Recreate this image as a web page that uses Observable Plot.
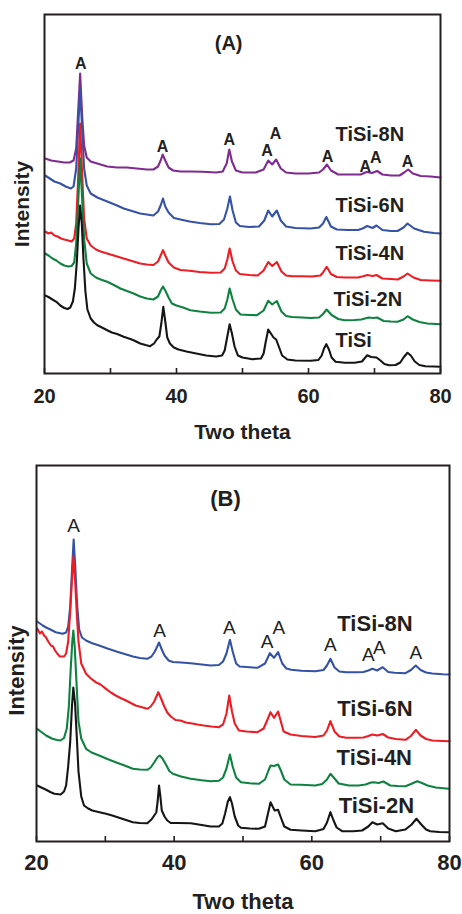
<!DOCTYPE html>
<html><head><meta charset="utf-8">
<script src="https://cdn.jsdelivr.net/npm/d3@7"></script>
<script src="https://cdn.jsdelivr.net/npm/@observablehq/plot@0.6"></script>
<style>html,body{margin:0;padding:0;background:#fff} svg{display:block}</style>
</head><body><div id="chart"></div>
<script>
// ---------- Panel (A) data: [two theta, intensity (a.u.)] ----------
const A_TiSi8N = [[20.1,215],[21,213],[22,212],[23,211],[23.8,211],[24.4,213],[24.8,225],[25.1,262],[25.4,300],[25.7,258],[26,228],[26.4,216],[27,212],[28,210],[29.5,207],[31,206],[32.5,206],[34,205],[35.5,204],[36.5,204],[37.2,207],[37.6,213],[37.9,219],[38.3,213],[38.8,206],[39.5,203],[40.6,202],[42,202],[44,201.7],[46,201],[47,202],[47.6,210],[48,224],[48.4,212],[49,203],[50,201],[52,201],[53.2,204],[53.9,213],[54.5,209],[55.1,214],[55.8,205],[56.6,201],[58,200],[60,200],[61.6,201],[62.2,204],[62.8,209],[63.4,203],[64.5,199],[66,199],[67.9,199],[68.8,201.5],[69.6,200.5],[70.4,202.5],[71.2,199],[72.5,198],[73.8,198],[74.5,201],[75.1,204],[75.8,200],[77,197.5],[78.5,197],[80,196]];
const A_TiSi6N = [[20.1,198],[20.8,195],[21.5,192],[22.4,190],[23.2,187],[24,185],[24.4,187],[24.8,205],[25.1,245],[25.4,285],[25.7,245],[26,205],[26.4,188],[27,180],[28,176],[29.5,172],[31,168],[32,165],[33.5,162],[34.5,160],[35.5,159],[36.5,158],[37.2,162],[37.6,168],[37.95,175],[38.3,167],[38.8,161],[39.6,155.5],[40.6,154],[42,152],[43.5,150.5],[45.2,149.3],[46.5,149.5],[47.2,154],[47.7,165],[48.1,177],[48.5,163],[49,151],[49.6,147.5],[51,146.5],[52.5,147],[53.3,153],[53.9,163],[54.5,157],[55.2,163],[55.8,153],[56.6,147],[58,145.5],[60.3,145],[61.6,146],[62.2,150],[62.7,156.5],[63.4,147],[64.3,144],[66,143.5],[67.5,143.5],[68.2,145],[68.9,147.5],[69.7,145.5],[70.3,148],[71.2,143.5],[72.5,142.5],[73.5,142.5],[74.4,146],[75,150],[76,145],[77.5,141.7],[79,140.5],[80,140]];
const A_TiSi4N = [[20.1,142],[20.6,140],[21,141],[21.5,138],[22,137],[22.5,135],[23,134],[23.6,133],[24.1,132],[24.5,135],[24.8,150],[25.1,195],[25.4,250],[25.7,200],[26,155],[26.4,135],[27,128],[27.8,124],[28.5,122],[29.5,120],[30.5,118],[32,115],[33,113],[34.5,110],[35.5,109],[36.5,108.5],[37.2,112],[37.6,118],[37.95,123.3],[38.3,118],[38.8,111],[39.6,106],[40.6,103.5],[42,102.7],[43.5,101.5],[45.2,100.7],[46.7,101],[47.3,105],[47.7,114],[48.05,125],[48.5,112],[49,103],[49.6,99.5],[51,98.5],[52.3,98],[53.2,103],[53.9,111.5],[54.5,107.5],[55.2,111.5],[55.9,102],[56.6,98],[57.5,97.3],[59,97.3],[60.5,97],[61.8,98],[62.2,101],[62.75,106.7],[63.4,99.5],[64.3,96.5],[65.5,96],[67.5,96],[68.3,97.2],[68.9,98.5],[69.7,97.5],[70.3,98.5],[71.2,95],[72.5,94.5],[73.5,94],[74.4,97],[75,100],[75.9,96],[77,93.5],[78.5,93],[80,92.7]];
const A_TiSi2N = [[20.1,120],[20.6,118],[21.2,115],[21.8,113],[22.4,110],[23,108],[23.6,107],[24.1,107.5],[24.5,111],[24.8,130],[25.1,170],[25.4,215],[25.7,175],[26,135],[26.4,110],[27,100],[27.8,96],[28.5,94],[29.5,91.7],[30.5,88.5],[31.5,85],[32.5,82.5],[33.5,80],[34.5,77],[35.5,75],[36.5,74],[37.2,77],[37.6,83],[37.95,87],[38.3,83],[38.8,76],[39.3,70],[40,68],[41,66],[42.1,63.3],[43.5,62],[45.2,60.7],[46.7,61],[47.3,65],[47.7,74],[48.05,85],[48.5,74],[49,64],[49.7,59],[51,58.5],[52.2,58.3],[53.2,63],[53.9,72.7],[54.5,69],[55.2,72.5],[55.9,62],[56.6,57.5],[57.5,56.5],[59,56],[60.3,55.5],[61.6,56],[62.2,59.5],[62.75,64],[63.5,58.5],[64.5,54.5],[65.5,53.3],[67,53.5],[68,54],[69.1,56],[69.8,55.5],[70.4,56],[71.4,52.5],[72.5,52],[73.5,51.7],[74.4,54],[75,57.3],[75.8,54],[76.8,51.5],[78,50],[80,49.3]];
const A_TiSi = [[20.1,78],[20.6,76.5],[21.2,74],[21.8,71.7],[22.4,68],[23,65.5],[23.5,64.5],[23.9,66],[24.3,72],[24.6,85],[24.9,112],[25.15,145],[25.4,168],[25.65,150],[25.9,115],[26.2,82],[26.5,64],[27,55],[27.5,51],[28,48.3],[28.7,46],[29.5,43.3],[30.2,41],[31,39.5],[32,36.7],[33,34.5],[33.5,33.3],[34.5,30],[35.3,28.5],[36,27.3],[36.6,30],[37,34],[37.4,37],[37.7,50],[38,66.7],[38.3,52],[38.6,36],[39,30],[39.6,26],[40.3,24],[41.5,22],[43,20],[44.5,18],[46,17],[46.9,18],[47.3,23],[47.7,37],[48.05,49.3],[48.4,40],[48.8,27],[49.3,18],[50,16],[51.5,14.3],[52.8,15],[53.2,20],[53.5,31],[53.9,44],[54.3,40],[54.7,36],[55.1,34],[55.5,27],[56,18],[56.8,14],[58,13],[60.3,12.7],[61.5,13.5],[62,18],[62.35,25],[62.7,29.3],[63.1,24],[63.5,16],[64.1,11.7],[65.5,10.8],[67,10.7],[68.1,12],[68.6,16],[68.9,18.3],[69.5,16.5],[70.3,16],[70.9,13],[71.5,9.5],[72.2,8.3],[73.2,8.5],[73.9,11],[74.4,16],[75,20.7],[75.5,18],[76.1,12],[76.8,8.5],[77.7,7.3],[79,7],[80,6.7]];

// ---------- Panel (B) data ----------
const B_TiSi8N = [[20.1,220],[20.5,218],[20.9,216],[21.4,214],[21.8,212.7],[22.3,211],[22.8,209.3],[23.3,208.5],[23.8,207.7],[24.3,209],[24.6,215],[24.9,235],[25.15,270],[25.4,302],[25.65,272],[25.9,237],[26.2,212],[26.6,204],[27.2,201],[28,198.5],[29.1,196],[30.3,193],[31.5,190.3],[32.8,187.5],[34,185],[35,183.5],[36.1,182.7],[36.7,185],[37.2,190],[37.8,199],[38.2,192],[38.6,186],[39.2,181],[39.8,179.5],[41,179],[42.4,178.3],[44,177],[45.3,176],[46.5,176.5],[47.1,180],[47.6,188],[48.1,201.7],[48.5,190],[49,178],[49.5,175],[50.5,174.5],[52.1,173.7],[53.2,178],[53.9,188.3],[54.5,183.7],[55.1,189.3],[55.7,178],[56.3,173],[57,171.7],[58.5,170.8],[60.5,170.3],[61.7,171.5],[62.2,176],[62.7,182.7],[63.3,174],[64,170],[65,169.3],[66.5,169.3],[67.5,169.5],[68.2,171],[68.8,172.7],[69.5,171],[70.3,174.3],[71.1,169.5],[72,168.8],[73.6,168.3],[74.4,171.5],[75.1,176],[75.8,171.5],[76.6,169],[77.5,168],[79,167.3],[80,167]];
const B_TiSi6N = [[20.1,213],[20.5,208],[20.8,210],[21.1,206],[21.4,204],[21.7,200],[22.1,196],[22.4,195],[22.7,191],[23,188],[23.4,185],[24,185],[24.3,188],[24.6,200],[24.9,230],[25.15,262],[25.35,285],[25.6,262],[25.85,228],[26.1,200],[26.5,178],[27.2,167.7],[27.9,163],[28.6,159.3],[29.3,157],[30.1,152.7],[30.8,149],[31.5,146],[32.2,143.5],[33,141],[33.7,138.5],[34.4,136],[35.2,134.5],[36.1,132.7],[36.6,135],[37.1,140],[37.7,149.3],[38.1,143],[38.5,136],[39,129],[39.5,125],[40.2,121.5],[40.9,121],[41.7,119],[42.4,118.3],[43.4,117],[44.3,116],[45.4,115],[46.5,114.3],[47.1,117],[47.6,128],[48,146],[48.4,130],[48.8,118],[49.4,111],[50.5,110],[52.1,109.3],[53,113],[53.5,121],[54,129.3],[54.5,123.7],[55.1,130],[55.5,120],[55.9,110],[56.9,107],[58.5,105.5],[60.5,104.5],[61.7,106],[62.2,111],[62.7,120.3],[63.3,110],[64,105],[65,103.7],[66.5,103.7],[67.5,104],[68.2,105.5],[68.8,107],[69.5,106],[70.3,107.5],[71.1,104],[72.2,102.5],[73.6,101.7],[74.4,105.5],[75.1,111.7],[75.8,106],[76.6,102.5],[77.5,101],[79,100.5],[80,100.3]];
const B_TiSi4N = [[20.1,112.7],[20.7,109.5],[21.4,106],[22.3,102.7],[23,101.5],[23.5,101],[24,103.5],[24.4,113],[24.7,135],[24.95,170],[25.2,200],[25.35,211],[25.55,195],[25.8,160],[26.1,120],[26.5,103],[27.2,92.7],[28,89],[29.1,86],[30.3,82.5],[31.5,79.3],[32.8,76],[34,72.7],[35,72],[36.1,71.7],[36.6,74],[37.1,79],[37.6,84.5],[37.9,86],[38.3,83],[38.8,77],[39.3,70.5],[39.8,67.7],[41,65],[42.4,62.7],[44,61.3],[45.3,60.3],[46.5,60.7],[47.1,64],[47.6,73],[48.1,87],[48.5,75],[49,64],[49.7,59.3],[51,58.3],[52.3,57.7],[53.2,62],[53.7,71],[54,76],[54.5,75.5],[55.1,77],[55.5,71],[56,62],[56.9,57],[58.5,56.7],[60.5,56],[61.5,57.5],[62.2,62],[62.7,67.7],[63.3,63],[63.9,58],[65.4,56],[66.8,56],[67.8,57],[68.6,59],[69,59.3],[69.7,58.5],[70.4,60],[71.4,56],[72.5,55.5],[73.6,55.3],[74.4,57.5],[75.3,60.3],[76,58.5],[76.8,56],[78,54],[79.9,52.7]];
const B_TiSi2N = [[20.1,56],[20.7,54],[21.4,51.7],[22,49.5],[22.6,47.7],[23.5,47],[24,50],[24.3,56],[24.6,75],[24.9,100],[25.15,135],[25.35,154],[25.6,138],[25.85,105],[26.1,70],[26.5,45],[26.9,36],[27.5,33],[28.1,31],[29,29.5],[30.1,27.7],[31,26],[32,23.7],[33,21.5],[34,19.3],[35,18.5],[36.1,18.3],[36.7,22],[37.1,26],[37.4,29],[37.6,40],[37.8,56],[38,45],[38.2,31],[38.6,25],[39,21],[39.5,18.5],[40.5,18.5],[42.4,18.3],[44,16.5],[45.3,15],[46.5,15],[47,18],[47.4,28],[47.8,40],[48.1,44.3],[48.4,38],[48.8,25],[49.3,16],[49.7,13.7],[51,13],[52.3,12.7],[53.2,15],[53.6,27],[54,39.3],[54.3,35],[54.6,31],[55.1,31.7],[55.5,24],[56,15],[56.9,11.7],[58.5,11],[60.5,10.3],[61.7,12.5],[62.2,19],[62.7,29.3],[63.1,22],[63.6,14],[64.4,10.3],[66,10.3],[67.3,11],[68.2,15],[68.8,19.3],[69.5,17],[70.3,18.3],[71.1,13],[72.2,10.3],[73.6,12],[74.5,17],[75.2,22.7],[75.9,17],[76.6,12],[77.2,10.3],[78.5,9.5],[79.9,9.3]];

// ---------- labels / annotations ----------
const A_names = ["TiSi-8N", "TiSi-6N", "TiSi-4N", "TiSi-2N", "TiSi"];
const A_nameTheta = [64.1, 64.1, 64.1, 63.8, 64.1];
const A_nameLevel = [233, 162, 114, 68, 27];
const A_peakTheta = [25.5, 37.9, 48.0, 53.7, 55.0, 62.9, 68.6, 70.2, 75.0];
const A_peakLevel = [305, 222, 229, 218, 235, 212, 202, 211, 207];
const B_names = ["TiSi-8N", "TiSi-6N", "TiSi-4N", "TiSi-2N"];
const B_nameTheta = [63.7, 63.7, 63.6, 63.9];
const B_nameLevel = [211, 126, 77, 29];
const B_peakTheta = [25.4, 37.9, 48.0, 53.5, 55.2, 62.7, 68.2, 69.8, 75.1];
const B_peakLevel = [310, 205, 208, 194, 208, 191, 181, 188, 183];
const xTicks = [20, 40, 60, 80];
const xAllTicks = [20, 30, 40, 50, 60, 70, 80];
const A_colors = ["#7f2b8f", "#3553a5", "#ec1d25", "#0f8241", "#151515"];
const B_colors = ["#3553a5", "#ec1d25", "#0f8241", "#151515"];

const FONT = "'Liberation Sans', Arial, Helvetica, sans-serif";
const INK = "#231f20";

function toRows(arr, name) { return arr.map(([x, y]) => ({x, y, name})); }

function panel(o) {
  const lines = o.series.map((s, i) => Plot.line(toRows(s, o.names[i]), {x: "x", y: "y", stroke: o.colors[i], strokeWidth: 2.1, strokeLinejoin: "round"}));
  const nameRows = o.names.map((n, i) => ({x: o.nameTheta[i], y: o.nameLevel[i], t: n}));
  const peakRows = o.peakTheta.map((t, i) => ({x: t, y: o.peakLevel[i]}));
  return Plot.plot({
    width: 462, height: o.height,
    marginTop: o.mt, marginBottom: o.mb, marginLeft: o.ml, marginRight: o.mr,
    x: {domain: [20, 80]},
    y: {domain: [0, o.ymax], axis: null},
    style: {fontFamily: FONT, background: "#fff", overflow: "visible", color: INK},
    marks: [
      ...lines,
      Plot.text(peakRows, {x: "x", y: "y", text: () => "A", lineAnchor: "bottom", fontSize: o.peakFont, fontWeight: o.peakWeight, fill: INK}),
      Plot.text(nameRows, {x: "x", y: "y", text: "t", textAnchor: "start", lineAnchor: "bottom", fontSize: o.nameFont, fontWeight: "bold", fill: INK}),
      Plot.text([o.tag], {x: () => o.tagTheta, y: () => o.tagLevel, text: d => d, lineAnchor: "bottom", fontSize: o.tagFont, fontWeight: "bold", fill: INK}),
      Plot.axisX({ticks: xAllTicks, tickSize: -5, fill: "none", stroke: INK, strokeWidth: 1.6, label: null}),
      Plot.axisX({ticks: xTicks, tickSize: 0, tickPadding: o.tickPad, stroke: "none", fill: INK, fontSize: o.tickFont, fontWeight: "bold", label: null}),
      Plot.frame({stroke: INK, strokeWidth: 2}),
      Plot.text(["Two theta"], {frameAnchor: "bottom", textAnchor: "middle", dy: o.xlabDy, lineAnchor: "bottom", fontSize: o.labFont, fontWeight: "bold", fill: INK}),
      Plot.text(["Intensity"], {frameAnchor: "left", textAnchor: "middle", lineAnchor: "middle", rotate: -90, dx: o.ylabDx, dy: o.ylabDy, fontSize: o.labFont, fontWeight: "bold", fill: INK})
    ]
  });
}

const chart = document.getElementById("chart");
chart.append(panel({
  height: 460, mt: 14, mb: 87, ml: 44, mr: 22, ymax: 359,
  series: [A_TiSi8N, A_TiSi6N, A_TiSi4N, A_TiSi2N, A_TiSi], names: A_names, colors: A_colors,
  nameTheta: A_nameTheta, nameLevel: A_nameLevel, peakTheta: A_peakTheta, peakLevel: A_peakLevel,
  peakFont: 16, peakWeight: "bold", nameFont: 20, tag: "(A)", tagTheta: 47.9, tagLevel: 324, tagFont: 20,
  tickPad: 15, tickFont: 20, labFont: 21, xlabDy: 65, ylabDx: -22, ylabDy: 10
}));
chart.append(panel({
  height: 454, mt: 5, mb: 73, ml: 36, mr: 13, ymax: 376,
  series: [B_TiSi8N, B_TiSi6N, B_TiSi4N, B_TiSi2N], names: B_names, colors: B_colors,
  nameTheta: B_nameTheta, nameLevel: B_nameLevel, peakTheta: B_peakTheta, peakLevel: B_peakLevel,
  peakFont: 19, peakWeight: "normal", nameFont: 22, tag: "(B)", tagTheta: 47.46, tagLevel: 336, tagFont: 22,
  tickPad: 12.5, tickFont: 22, labFont: 22, xlabDy: 67, ylabDx: -20, ylabDy: 17
}));
</script></body></html>
